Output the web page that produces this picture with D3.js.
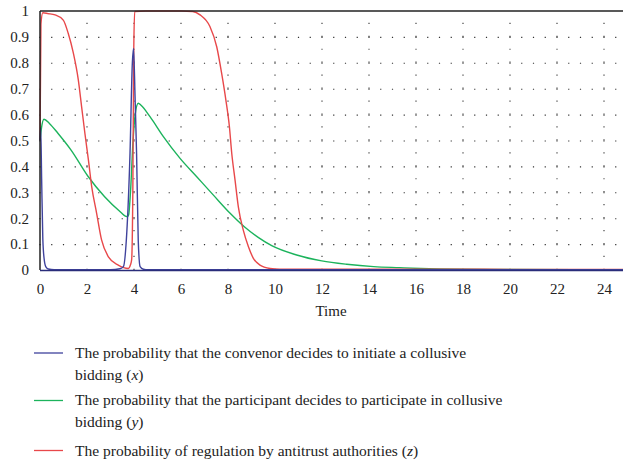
<!DOCTYPE html>
<html><head><meta charset="utf-8">
<script src="https://cdn.jsdelivr.net/npm/d3@7"></script>
<style>body{margin:0;background:#fff}svg{display:block}</style>
</head><body>
<svg id="c" width="623" height="464"></svg>
<script>
// ---- data ----
const xTicks = [0,2,4,6,8,10,12,14,16,18,20,22,24];
const yTicks = [0,0.1,0.2,0.3,0.4,0.5,0.6,0.7,0.8,0.9,1];
const yTickLabels = ["0","0.1","0.2","0.3","0.4","0.5","0.6","0.7","0.8","0.9","1"];

const xTime = [0,0.03,0.07,0.12,0.18,0.25,0.35,0.6,3.0,3.4,3.55,3.69,3.83,3.93,3.98,4.05,4.11,4.18,4.26,4.4,4.6,25];
const xVals = [0.5,0.55,0.35,0.12,0.04,0.012,0.004,0.001,0.001,0.005,0.013,0.14,0.45,0.8,0.855,0.65,0.45,0.116,0.013,0.003,0.001,0.001];

const yTime = [0,0.06,0.17,0.4,0.77,1.33,2.04,2.75,3.46,3.63,3.72,3.77,3.85,3.96,4.05,4.18,4.3,4.68,5.25,5.96,6.67,7.37,8.09,8.72,9.3,9.86,10.92,11.99,13.05,14.2,15.3,16.2,18,20,25];
const yVals = [0.5,0.547,0.582,0.566,0.527,0.462,0.362,0.283,0.221,0.208,0.206,0.212,0.3,0.5,0.6,0.644,0.636,0.592,0.515,0.431,0.36,0.29,0.219,0.165,0.125,0.094,0.058,0.035,0.022,0.013,0.009,0.006,0.003,0.002,0.001];

const zTime = [0,0.04,0.12,0.34,0.64,0.99,1.2,1.42,1.63,1.77,1.91,2.06,2.2,2.41,2.62,2.91,3.33,3.76,3.85,3.9,3.95,3.99,4.03,4.5,6.0,6.5,6.81,7.23,7.52,7.73,7.91,8.06,8.16,8.3,8.44,8.65,8.87,9.08,9.36,9.79,10.2,12,25];
const zVals = [0.5,0.95,0.993,0.99,0.985,0.965,0.914,0.837,0.734,0.631,0.528,0.425,0.322,0.219,0.116,0.051,0.019,0.006,0.02,0.04,0.3,0.85,0.998,1.0,1.0,0.998,0.985,0.94,0.862,0.759,0.656,0.553,0.45,0.347,0.244,0.154,0.09,0.045,0.019,0.006,0.003,0.003,0.002];

const seriesNames = ["x","y","z"];
const seriesColors = ["#3f429c","#1cb35c","#e8484a"];
const legendLines = [
  ["The probability that the convenor decides to initiate a collusive", "bidding (", "x", ")"],
  ["The probability that the participant decides to participate in collusive", "bidding (", "y", ")"],
  ["The probability of regulation by antitrust authorities (", "z", ")"]
];

// ---- drawing ----
const svg = d3.select("#c");
const font = "'Liberation Serif','DejaVu Serif',serif";
const x = d3.scaleLinear().domain([0,25]).range([40, 627.5]);
const y = d3.scaleLinear().domain([0,1]).range([270, 11]);

// dotted grid
const g = svg.append("g");
g.selectAll("line.h").data(yTicks.filter(v=>v>0&&v<1)).join("line")
  .attr("x1", x(0)-0.6).attr("x2", 623).attr("y1", d=>y(d)+0.5).attr("y2", d=>y(d)+0.5)
  .attr("stroke","#333").attr("stroke-width",1.1).attr("stroke-dasharray","1.2,10.55");
g.selectAll("line.v").data(xTicks.filter(v=>v>0)).join("line")
  .attr("x1", d=>x(d)).attr("x2", d=>x(d)).attr("y1", y(0)).attr("y2", y(1))
  .attr("stroke","#333").attr("stroke-width",1.1).attr("stroke-dasharray","1.2,11.75");

// series
const line = d3.line().curve(d3.curveMonotoneX);
const series = [[xTime,xVals],[yTime,yVals],[zTime,zVals]];
const order = [1,2,0];
order.forEach(i=>{
  const [tt,vv] = series[i];
  svg.append("path")
    .attr("d", line(tt.map((t,k)=>[x(t), y(vv[k])])))
    .attr("fill","none").attr("stroke", seriesColors[i]).attr("stroke-width", 1.4);
});

// frame
svg.append("line").attr("x1",x(0)).attr("x2",623).attr("y1",y(1)).attr("y2",y(1)).attr("stroke","#222").attr("stroke-width",1.3);
svg.append("line").attr("x1",x(0)).attr("x2",x(0)).attr("y1",y(1)).attr("y2",y(0)).attr("stroke","#222").attr("stroke-width",1.5);
svg.append("line").attr("x1",x(0)).attr("x2",623).attr("y1",y(0)+0.5).attr("y2",y(0)+0.5).attr("stroke","#2a2d7a").attr("stroke-width",1.4);

// axes labels via d3 axes
const xAxis = d3.axisBottom(x).tickValues(xTicks).tickSize(0).tickPadding(13).tickFormat(d3.format("d"));
const xa = svg.append("g").attr("transform",`translate(0,${y(0)})`).call(xAxis);
xa.select(".domain").remove();
xa.selectAll("text").attr("font-family",font).attr("font-size",15).attr("fill","#222");

const yAxis = d3.axisLeft(y).tickValues(yTicks).tickSize(0).tickPadding(11).tickFormat((d,i)=>yTickLabels[i]);
const ya = svg.append("g").attr("transform",`translate(${x(0)},0)`).call(yAxis);
ya.select(".domain").remove();
ya.selectAll("text").attr("font-family",font).attr("font-size",15).attr("fill","#222");

svg.append("text").attr("x",331).attr("y",316).attr("text-anchor","middle")
  .attr("font-family",font).attr("font-size",15).attr("fill","#222").text("Time");

// legend
const lg = svg.append("g").attr("font-family",font).attr("font-size",15.5).attr("fill","#222");
const itemY = [358, 405, 456];
const sampleY = [353, 400.5, 450.5];
legendLines.forEach((item,i)=>{
  lg.append("line").attr("x1",34).attr("x2",63).attr("y1",sampleY[i]).attr("y2",sampleY[i])
    .attr("stroke",seriesColors[i]).attr("stroke-width",1.3);
  if (item.length === 4) {
    lg.append("text").attr("x",75).attr("y",itemY[i]).text(item[0]);
    const t = lg.append("text").attr("x",75).attr("y",itemY[i]+22);
    t.append("tspan").text(item[1]);
    t.append("tspan").attr("font-style","italic").text(item[2]);
    t.append("tspan").text(item[3]);
  } else {
    const t = lg.append("text").attr("x",75).attr("y",itemY[i]);
    t.append("tspan").text(item[0]);
    t.append("tspan").attr("font-style","italic").text(item[1]);
    t.append("tspan").text(item[2]);
  }
});
</script>
</body></html>
